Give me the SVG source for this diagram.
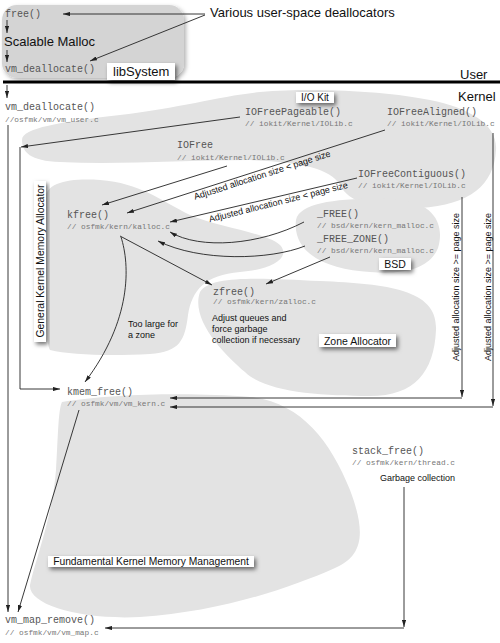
<svg xmlns="http://www.w3.org/2000/svg" width="500" height="643" viewBox="0 0 500 643">
<defs>
<marker id="ah" viewBox="0 0 10 6" refX="10" refY="3" markerWidth="7" markerHeight="4.2" orient="auto" markerUnits="userSpaceOnUse"><path d="M0,0 L10,3 L0,6 z" fill="#222"/></marker>
<filter id="sh" x="-30%" y="-60%" width="160%" height="240%"><feDropShadow dx="2" dy="2.5" stdDeviation="2" flood-color="#000" flood-opacity="0.55"/></filter>
<filter id="bsh" x="-10%" y="-10%" width="120%" height="125%"><feDropShadow dx="2" dy="2" stdDeviation="2" flood-color="#000" flood-opacity="0.3"/></filter>
</defs>
<style>
.blob{fill:#e3e3e3}
.fn{font-family:"Liberation Mono",monospace;font-size:10px;fill:#555}
.cm{font-family:"Liberation Mono",monospace;font-size:7.8px;fill:#777}
.lbl{font-family:"Liberation Sans",Arial,sans-serif;font-size:9px;fill:#111}
.big{font-family:"Liberation Sans",Arial,sans-serif;font-size:13px;fill:#111}
.tag{fill:#fff;filter:url(#sh)}
.tagt{font-family:"Liberation Sans",Arial,sans-serif;fill:#111}
.c{fill:none;stroke:#222;stroke-width:0.9}
.ca{fill:none;stroke:#222;stroke-width:0.9;marker-end:url(#ah)}
</style>
<rect width="500" height="643" fill="#fff"/>

<g id="libSystem">
<rect x="2" y="5" width="182" height="73" rx="15" fill="#d4d4d4" filter="url(#bsh)"/>
<text class="fn" x="5" y="17">free()</text>
<text class="big" x="4" y="46">Scalable Malloc</text>
<text class="fn" x="5" y="72">vm_deallocate()</text>
<rect class="tag" x="107" y="63" width="68" height="17"/>
<text class="tagt" x="113" y="76" font-size="13">libSystem</text>
</g>

<g id="user-kernel">
<line x1="3" y1="82" x2="500" y2="82" stroke="#000" stroke-width="3"/>
<text class="big" x="460" y="79">User</text>
<text class="big" x="458" y="101">Kernel</text>
</g>

<g id="userspace-note">
<text class="big" x="210" y="17">Various user-space deallocators</text>
</g>

<g id="iokit">
<path class="blob" d="M22,140 C22,128 60,122 120,115 C180,108 220,96 260,92 C320,87 390,92 430,100 C470,108 498,125 496,150 C494,185 470,205 420,208 C380,210 350,205 340,185 C330,168 300,162 250,160 C180,160 120,165 60,162 C30,161 22,152 22,140 Z"/>
<rect class="tag" x="296" y="92" width="38" height="11"/>
<text class="tagt" x="315" y="101" font-size="10" text-anchor="middle">I/O Kit</text>
<text class="fn" x="245" y="115">IOFreePageable()</text>
<text class="cm" x="245" y="126">// iokit/Kernel/IOLib.c</text>
<text class="fn" x="387" y="115">IOFreeAligned()</text>
<text class="cm" x="387" y="126">// iokit/Kernel/IOLib.c</text>
<text class="fn" x="177" y="148">IOFree</text>
<text class="cm" x="177" y="160">// iokit/Kernel/IOLib.c</text>
<text class="fn" x="358" y="177">IOFreeContiguous()</text>
<text class="cm" x="358" y="188">// iokit/Kernel/IOLib.c</text>
</g>

<g id="general-kernel-allocator">
<path class="blob" d="M45,200 C45,182 70,178 100,180 C140,183 160,200 190,215 C220,228 265,232 280,245 C292,258 270,270 240,272 C205,275 192,290 188,315 C185,340 180,352 150,354 C110,356 70,355 50,350 C44,340 45,260 45,200 Z"/>
<rect class="tag" x="34" y="181" width="12" height="161"/>
<text class="tagt" font-size="10.4" text-anchor="middle" transform="translate(43.5,261) rotate(-90)">General Kernel Memory Allocator</text>
<text class="fn" x="67" y="218">kfree()</text>
<text class="cm" x="67" y="229">// osfmk/kern/kalloc.c</text>
</g>

<g id="zone-allocator">
<path class="blob" d="M200,292 C210,275 260,278 320,281 C390,284 438,290 436,330 C434,372 415,396 370,396 C320,396 265,392 245,372 C225,355 190,320 200,292 Z"/>
<text class="fn" x="213" y="295">zfree()</text>
<text class="cm" x="213" y="304">// osfmk/kern/zalloc.c</text>
<text class="lbl" x="212" y="321">Adjust queues and</text>
<text class="lbl" x="212" y="332">force garbage</text>
<text class="lbl" x="212" y="343">collection if necessary</text>
<rect class="tag" x="319" y="334" width="77" height="13"/>
<text class="tagt" x="357.5" y="345" font-size="10.5" text-anchor="middle">Zone Allocator</text>
</g>

<g id="bsd">
<path class="blob" d="M296,220 C300,202 340,198 390,199 C435,200 445,225 438,248 C430,268 405,275 370,272 C330,270 292,255 296,220 Z"/>
<text class="fn" x="317" y="217">_FREE()</text>
<text class="cm" x="317" y="228">// bsd/kern/kern_malloc.c</text>
<text class="fn" x="317" y="242">_FREE_ZONE()</text>
<text class="cm" x="317" y="253">// bsd/kern/kern_malloc.c</text>
<rect class="tag" x="379" y="258" width="32" height="12"/>
<text class="tagt" x="395" y="268" font-size="10.5" text-anchor="middle">BSD</text>
</g>

<g id="fundamental">
<path class="blob" d="M62,402 C110,394 190,392 250,397 C300,402 330,440 350,490 C365,530 365,555 335,568 C290,588 220,612 140,617 C80,620 28,605 30,585 C35,560 52,520 56,470 C58,440 58,410 62,402 Z"/>
<rect class="tag" x="48" y="556" width="206" height="11"/>
<text class="tagt" x="151" y="565" font-size="10.3" text-anchor="middle">Fundamental Kernel Memory Management</text>
</g>

<g id="vm_deallocate">
<text class="fn" x="5" y="110">vm_deallocate()</text>
<text class="cm" x="5" y="122">//osfmk/vm/vm_user.c</text>
</g>

<g id="kmem_free">
<text class="fn" x="67" y="395">kmem_free()</text>
<text class="cm" x="67" y="406">// osfmk/vm/vm_kern.c</text>
</g>

<g id="stack_free">
<text class="fn" x="352" y="454">stack_free()</text>
<text class="cm" x="352" y="465">// osfmk/kern/thread.c</text>
<text class="lbl" x="380" y="481">Garbage collection</text>
</g>

<g id="vm_map_remove">
<text class="fn" x="5" y="623">vm_map_remove()</text>
<text class="cm" x="5" y="635">// osfmk/vm/vm_map.c</text>
</g>

<g id="connectors">
<line class="ca" x1="205" y1="14" x2="63" y2="14"/>
<line class="ca" x1="205" y1="15" x2="90" y2="61"/>
<line class="ca" x1="7" y1="20" x2="7" y2="33"/>
<line class="ca" x1="7" y1="50" x2="7" y2="62"/>
<line class="ca" x1="7" y1="85" x2="7" y2="98"/>
<line class="ca" x1="8" y1="125" x2="8" y2="612"/>
<line class="ca" x1="240" y1="117" x2="21" y2="147"/>
<path class="ca" d="M20,147 V389 H60"/>
<line class="ca" x1="227" y1="166" x2="102" y2="205"/>
<line class="ca" x1="385" y1="130" x2="127" y2="213"/>
<text class="lbl" text-anchor="middle" transform="translate(263,178) rotate(-17.8)">Adjusted allocation size &lt; page size</text>
<line class="ca" x1="357" y1="178" x2="170" y2="222"/>
<text class="lbl" text-anchor="middle" transform="translate(279,205) rotate(-14)">Adjusted allocation size &lt; page size</text>
<path class="ca" d="M304,222 C260,245 200,250 170,232"/>
<path class="ca" d="M305,246 C270,260 200,262 158,241"/>
<line class="ca" x1="120" y1="236" x2="212" y2="285"/>
<line class="ca" x1="330" y1="257" x2="266" y2="284"/>
<path class="ca" d="M121,237 C130,265 132,320 85,382"/>
<text class="lbl" x="128" y="327">Too large for</text>
<text class="lbl" x="128" y="338">a zone</text>
<line class="ca" x1="462" y1="197" x2="462" y2="397"/>
<line class="ca" x1="462" y1="398" x2="170" y2="398"/>
<text class="lbl" text-anchor="middle" transform="translate(459,287) rotate(-90)">Adjusted allocation size &gt;= page size</text>
<line class="ca" x1="493" y1="133" x2="493" y2="406"/>
<line class="ca" x1="493" y1="407" x2="170" y2="407"/>
<text class="lbl" text-anchor="middle" transform="translate(490.5,287) rotate(-90)">Adjusted allocation size &gt;= page size</text>
<line class="ca" x1="79" y1="410" x2="18" y2="612"/>
<line class="ca" x1="404" y1="487" x2="404" y2="627"/>
<line class="ca" x1="404" y1="628" x2="105" y2="628"/>
</g>
</svg>
